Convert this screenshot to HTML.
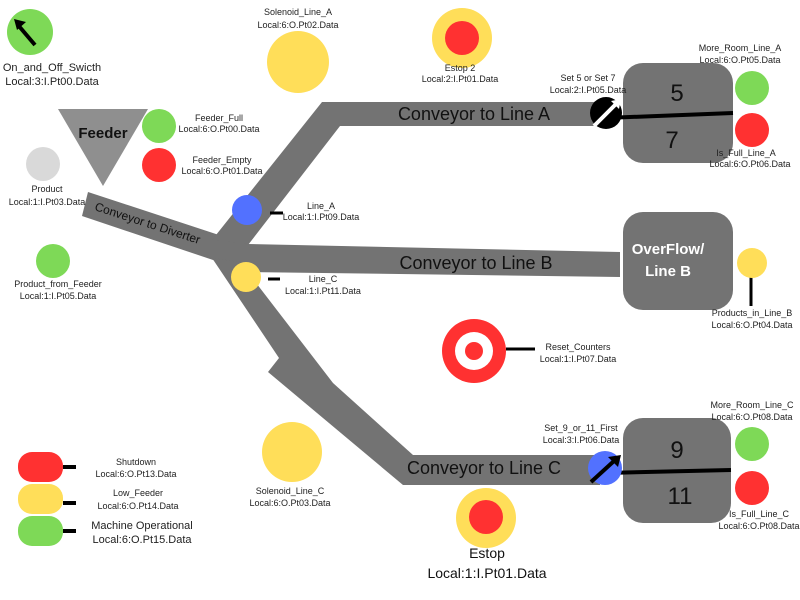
<!DOCTYPE html>
<html><head><meta charset="utf-8"><style>
html,body{margin:0;padding:0;background:#fff;}
svg{display:block;font-family:"Liberation Sans",sans-serif;}
.s{font-size:9px;fill:#222;text-anchor:middle}
.m{font-size:11px;fill:#222;text-anchor:middle}
.c{font-size:18px;fill:#111;text-anchor:middle}
</style></head><body>
<svg width="800" height="600" viewBox="0 0 800 600">
<g fill="#737373">
<polygon points="88,192 222,236 222,263 82,216"/>
<polygon points="212,240 322,102 600,102 600,126 340,126 248,245"/>
<polygon points="215,240 248,244 620,252 620,277 248,272 215,262"/>
<polygon points="212,258 240,262 333,383 413,455 600,455 600,485 403,485 268,372 279,358"/>
</g>
<text class="c" x="474" y="120">Conveyor to Line A</text>
<text class="c" x="476" y="269">Conveyor to Line B</text>
<text class="c" x="484" y="474">Conveyor to Line C</text>
<text font-size="12" fill="#111" transform="translate(94,210) rotate(18)">Conveyor to Diverter</text>
<rect x="623" y="63" width="110" height="100" rx="20" fill="#737373"/>
<line x1="605" y1="118" x2="733" y2="113" stroke="#000" stroke-width="4"/>
<text x="677" y="101" font-size="24" text-anchor="middle" fill="#111">5</text>
<text x="672" y="148" font-size="24" text-anchor="middle" fill="#111">7</text>
<rect x="623" y="212" width="110" height="98" rx="20" fill="#737373"/>
<text x="668" y="254" font-size="15" font-weight="bold" fill="#fff" text-anchor="middle">OverFlow/</text>
<text x="668" y="276" font-size="15" font-weight="bold" fill="#fff" text-anchor="middle">Line B</text>
<rect x="623" y="418" width="108" height="105" rx="20" fill="#737373"/>
<line x1="605" y1="473" x2="731" y2="470" stroke="#000" stroke-width="4"/>
<text x="677" y="458" font-size="24" text-anchor="middle" fill="#111">9</text>
<text x="680" y="504" font-size="24" text-anchor="middle" fill="#111">11</text>
<circle cx="30" cy="32" r="23" fill="#7ed957"/>
<line x1="35" y1="45" x2="18" y2="25" stroke="#000" stroke-width="4"/>
<polygon points="14,19 26,22 17,30" fill="#000"/>
<text class="m" x="52" y="71">On_and_Off_Swicth</text>
<text class="m" x="52" y="85">Local:3:I.Pt00.Data</text>
<text class="s" x="298" y="15">Solenoid_Line_A</text>
<text class="s" x="298" y="28">Local:6:O.Pt02.Data</text>
<circle cx="298" cy="62" r="31" fill="#ffde59"/>
<circle cx="462" cy="38" r="30" fill="#ffde59"/>
<circle cx="462" cy="38" r="17" fill="#ff3131"/>
<text class="s" x="460" y="71">Estop 2</text>
<text class="s" x="460" y="82">Local:2:I.Pt01.Data</text>
<polygon points="58,109 148,109 103,186" fill="#8f8f8f"/>
<text x="103" y="138" font-size="15" font-weight="bold" text-anchor="middle" fill="#111">Feeder</text>
<circle cx="159" cy="126" r="17" fill="#7ed957"/>
<circle cx="159" cy="165" r="17" fill="#ff3131"/>
<text class="s" x="219" y="121" font-size="8">Feeder_Full</text>
<text class="s" x="219" y="132" font-size="8">Local:6:O.Pt00.Data</text>
<text class="s" x="222" y="163" font-size="8">Feeder_Empty</text>
<text class="s" x="222" y="174" font-size="8">Local:6:O.Pt01.Data</text>
<circle cx="43" cy="164" r="17" fill="#d9d9d9"/>
<text class="s" x="47" y="192">Product</text>
<text class="s" x="47" y="205">Local:1:I.Pt03.Data</text>
<circle cx="53" cy="261" r="17" fill="#7ed957"/>
<text class="s" x="58" y="287">Product_from_Feeder</text>
<text class="s" x="58" y="299">Local:1:I.Pt05.Data</text>
<circle cx="247" cy="210" r="15" fill="#5271ff"/>
<line x1="270" y1="213" x2="283" y2="213" stroke="#000" stroke-width="3"/>
<text class="s" x="321" y="209" font-size="8">Line_A</text>
<text class="s" x="321" y="220" font-size="8">Local:1:I.Pt09.Data</text>
<circle cx="246" cy="277" r="15" fill="#ffde59"/>
<line x1="268" y1="279" x2="280" y2="279" stroke="#000" stroke-width="3"/>
<text class="s" x="323" y="282">Line_C</text>
<text class="s" x="323" y="294">Local:1:I.Pt11.Data</text>
<circle cx="474" cy="351" r="32" fill="#ff3131"/>
<circle cx="474" cy="351" r="19" fill="#fff"/>
<circle cx="474" cy="351" r="9" fill="#ff3131"/>
<line x1="506" y1="349" x2="535" y2="349" stroke="#000" stroke-width="3"/>
<text class="s" x="578" y="350">Reset_Counters</text>
<text class="s" x="578" y="362">Local:1:I.Pt07.Data</text>
<circle cx="292" cy="452" r="30" fill="#ffde59"/>
<text class="s" x="290" y="494">Solenoid_Line_C</text>
<text class="s" x="290" y="506">Local:6:O.Pt03.Data</text>
<circle cx="486" cy="518" r="30" fill="#ffde59"/>
<circle cx="486" cy="517" r="17" fill="#ff3131"/>
<text x="487" y="558" font-size="14" text-anchor="middle" fill="#111">Estop</text>
<text x="487" y="578" font-size="14" text-anchor="middle" fill="#111">Local:1:I.Pt01.Data</text>
<circle cx="606" cy="113" r="16" fill="#000"/>
<line x1="594" y1="126" x2="616" y2="104" stroke="#fff" stroke-width="4"/>
<polygon points="621,99 611,101 619,109" fill="#fff"/>
<text class="s" x="588" y="81" font-size="8">Set 5 or Set 7</text>
<text class="s" x="588" y="93" font-size="8">Local:2:I.Pt05.Data</text>
<circle cx="605" cy="468" r="17" fill="#5271ff"/>
<line x1="591" y1="482" x2="614" y2="461" stroke="#000" stroke-width="4"/>
<polygon points="621,455 608,457 618,467" fill="#000"/>
<text class="s" x="581" y="431">Set_9_or_11_First</text>
<text class="s" x="581" y="443">Local:3:I.Pt06.Data</text>
<text class="s" x="740" y="51" font-size="8.5">More_Room_Line_A</text>
<text class="s" x="740" y="63" font-size="8.5">Local:6:O.Pt05.Data</text>
<circle cx="752" cy="88" r="17" fill="#7ed957"/>
<circle cx="752" cy="130" r="17" fill="#ff3131"/>
<text class="s" x="746" y="156" font-size="8.5">Is_Full_Line_A</text>
<text class="s" x="750" y="167" font-size="8.5">Local:6:O.Pt06.Data</text>
<line x1="751" y1="270" x2="751" y2="306" stroke="#000" stroke-width="3"/>
<circle cx="752" cy="263" r="15" fill="#ffde59"/>
<text class="s" x="752" y="316" font-size="8.5">Products_in_Line_B</text>
<text class="s" x="752" y="328" font-size="8.5">Local:6:O.Pt04.Data</text>
<text class="s" x="752" y="408" font-size="8.5">More_Room_Line_C</text>
<text class="s" x="752" y="420" font-size="8.5">Local:6:O.Pt08.Data</text>
<circle cx="752" cy="444" r="17" fill="#7ed957"/>
<circle cx="752" cy="488" r="17" fill="#ff3131"/>
<text class="s" x="759" y="517" font-size="8.5">Is_Full_Line_C</text>
<text class="s" x="759" y="529" font-size="8.5">Local:6:O.Pt08.Data</text>
<rect x="18" y="452" width="45" height="30" rx="14" fill="#ff3131"/>
<rect x="18" y="484" width="45" height="30" rx="14" fill="#ffde59"/>
<rect x="18" y="516" width="45" height="30" rx="14" fill="#7ed957"/>
<line x1="63" y1="467" x2="76" y2="467" stroke="#000" stroke-width="4"/>
<line x1="63" y1="503" x2="76" y2="503" stroke="#000" stroke-width="4"/>
<line x1="63" y1="531" x2="76" y2="531" stroke="#000" stroke-width="4"/>
<text class="s" x="136" y="465">Shutdown</text>
<text class="s" x="136" y="477">Local:6:O.Pt13.Data</text>
<text class="s" x="138" y="496">Low_Feeder</text>
<text class="s" x="138" y="509">Local:6:O.Pt14.Data</text>
<text class="m" x="142" y="529" font-size="10">Machine Operational</text>
<text class="m" x="142" y="543" font-size="10">Local:6:O.Pt15.Data</text>
</svg>
</body></html>
